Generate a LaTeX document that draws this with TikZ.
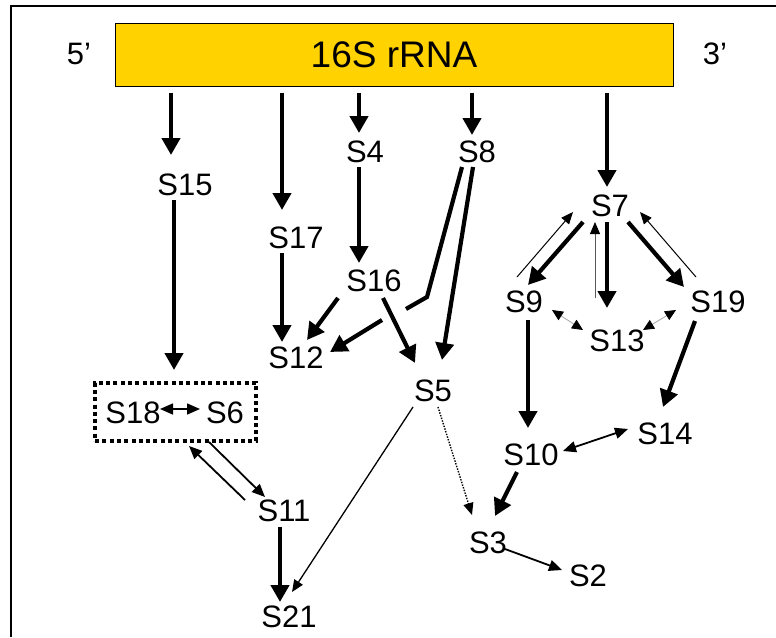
\documentclass[tikz,border=0pt]{standalone}
\usepackage{fontspec}
\setmainfont{Liberation Sans}
\usetikzlibrary{arrows.meta,calc}
\definecolor{rnagold}{RGB}{255,210,0}
\tikzset{
  lbl/.style={inner sep=0pt, font=\fontsize{31}{36}\selectfont},
  bigtip/.tip={Triangle[length=17pt,width=18pt]},
  midtip/.tip={Triangle[length=13pt,width=11pt]},
  smalltip/.tip={Triangle[length=12pt,width=10pt]},
  heavy/.style={line width=4.2pt, -bigtip},
  heavyline/.style={line width=4.2pt},
  medium/.style={line width=1.8pt, -midtip},
  medboth/.style={line width=1.8pt, midtip-midtip},
  light/.style={line width=1pt, -smalltip},
  faint/.style={line width=0.8pt, draw=black!65, -{Triangle[length=12pt,width=10pt,color=black]}},
  faintboth/.style={line width=0.8pt, draw=black!35,
    {Triangle[length=11pt,width=10pt,color=black]}-{Triangle[length=11pt,width=10pt,color=black]}},
  dotarrow/.style={line width=1.4pt, dash pattern=on 1.4pt off 1.4pt, -smalltip},
}
\begin{document}
\begin{tikzpicture}[x=1pt,y=-1pt]
\useasboundingbox (0,0) rectangle (776,637);

% outer frame
\draw[line width=2pt] (11,637) -- (11,6) -- (776,6);

% 16S rRNA strand
\node[draw, fill=rnagold, line width=1pt, minimum width=558pt, minimum height=63pt,
      inner sep=0pt, font=\fontsize{37}{42}\selectfont] (bar) at (394,54.5) {16S rRNA};
\node[lbl] (five) at (79,54) {5’};
\node[lbl] (three) at (715,54) {3’};

% proteins
\node[lbl] (S15) at (185,185) {S15};
\node[lbl] (S4)  at (365,152) {S4};
\node[lbl] (S8)  at (477,152) {S8};
\node[lbl] (S17) at (296,238) {S17};
\node[lbl] (S16) at (374,281) {S16};
\node[lbl] (S12) at (296,358) {S12};
\node[lbl] (S5)  at (433,391) {S5};
\node[lbl] (S7)  at (610,206) {S7};
\node[lbl] (S9)  at (524,302) {S9};
\node[lbl] (S19) at (718,302) {S19};
\node[lbl] (S13) at (617,341) {S13};
\node[lbl] (S10) at (531,455) {S10};
\node[lbl] (S14) at (665,434) {S14};
\node[lbl] (S3)  at (488,543) {S3};
\node[lbl] (S2)  at (588,576) {S2};
\node[lbl] (S11) at (284,511) {S11};
\node[lbl] (S21) at (289,617) {S21};
\node[lbl] (S18) at (133,413) {S18};
\node[lbl] (S6)  at (225,413) {S6};
\node[draw, line width=4pt, dash pattern=on 4pt off 3.3pt, minimum width=161pt,
      minimum height=58pt, inner sep=0pt] (box) at (175.5,412) {};

% binding to the rRNA
\draw[heavy] ($(bar.south)+(-223,6)$) -- ($(S15)+(-14,-30)$);
\draw[heavy] ($(bar.south)+(-112,6)$) -- ($(S17)+(-14,-28)$);
\draw[heavy] ($(bar.south)+(-35,6)$)  -- ($(S4)+(-6,-19)$);
\draw[heavy] ($(bar.south)+(78,6)$)   -- ($(S8)+(-5,-17)$);
\draw[heavy] ($(bar.south)+(213,6)$)  -- ($(S7)+(-3,-19)$);

% 5' domain
\draw[heavy] ($(S15)+(-11,15)$) -- ($(box.north)+(-1.5,-11)$);
\draw[heavy] ($(S17)+(-14,15)$) -- ($(S12)+(-14,-16)$);
\draw[heavy] ($(S4)+(-6,15)$)   -- ($(S16)+(-15,-18)$);
\draw[heavy] ($(S16)+(-36,17)$) -- ($(S12)+(11,-18)$);
\coordinate (kink) at ($(S16)+(53,16)$);
\coordinate (cutA) at ($(S16)+(32,28)$);
\coordinate (cutB) at ($(S16)+(8,39)$);
\draw[heavyline] ($(S8)+(-15,15)$) -- (kink) -- (cutA);
\draw[heavy] (cutB) -- ($(S12)+(34,-6)$);
\draw[heavy] ($(S8)+(-4,15)$)   -- ($(S5)+(9,-31)$);
\draw[heavy] ($(S16)+(9,17)$)   -- ($(S5)+(-18,-28)$);

% 3' domain
\draw[heavy] ($(S7)+(-27,16)$)  -- ($(S9)+(4,-17)$);
\draw[light] ($(S9)+(-7,-25)$)  -- ($(S7)+(-37,6)$);
\draw[heavy] ($(S7)+(-3,16)$)   -- ($(S13)+(-10,-33)$);
\draw[faint] ($(S13)+(-22,-43)$) -- ($(S7)+(-15,16)$);
\draw[heavy] ($(S7)+(18,16)$)   -- ($(S19)+(-34,-15)$);
\draw[light] ($(S19)+(-22,-25)$) -- ($(S7)+(30,6)$);
\draw[faintboth] ($(S9)+(28,8)$)  -- ($(S13)+(-34,-11)$);
\draw[faintboth] ($(S13)+(26,-11)$) -- ($(S19)+(-42,8)$);
\draw[heavy] ($(S9)+(4,18)$)    -- ($(S10)+(-3,-27)$);
\draw[heavy] ($(S19)+(-23,19)$) -- ($(S14)+(-2,-27)$);
\draw[medboth] ($(S10)+(32,-4)$) -- ($(S14)+(-37,-5)$);
\draw[heavy] ($(S10)+(-14,17)$) -- ($(S3)+(7,-27)$);
\draw[dotarrow] ($(S5)+(5,16)$) -- ($(S3)+(-16,-28)$);
\draw[medium] ($(S3)+(17,6)$)   -- ($(S2)+(-26,-6)$);

% central domain
\draw[light, line width=1.3pt] ($(S5)+(-20,16)$) -- ($(S21)+(3,-25)$);
\draw[medium] ($(box)+(33.5,30)$) -- ($(S11)+(-19,-14)$);
\draw[medium] ($(S11)+(-39,-11)$) -- ($(box)+(13.5,34)$);
\draw[heavy, line width=4.6pt] ($(S11)+(-4,16)$) -- ($(S21)+(-9,-15)$);
\draw[medboth, line width=1.6pt] ($(S18)+(27,-4)$) -- ($(S6)+(-25,-4)$);
\end{tikzpicture}
\end{document}
